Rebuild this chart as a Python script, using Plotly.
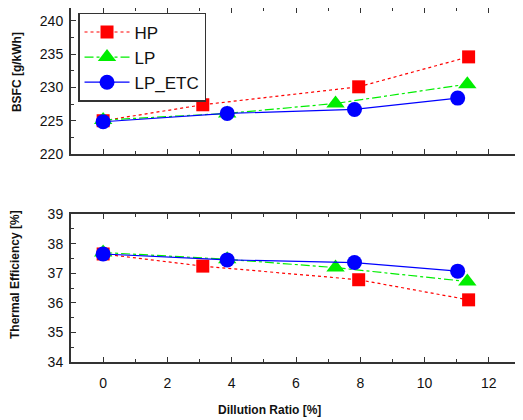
import plotly.graph_objects as go
from plotly.subplots import make_subplots

series_names = ["HP", "LP", "LP_ETC"]
x_HP = [0, 3.1, 7.95, 11.37]
x_LP = [0, 3.86, 7.23, 11.33]
x_ETC = [0, 3.86, 7.82, 11.03]
bsfc_HP = [225.0, 227.4, 230.1, 234.6]
bsfc_LP = [225.1, 226.1, 227.6, 230.5]
bsfc_ETC = [224.85, 226.1, 226.7, 228.4]
te_HP = [37.65, 37.24, 36.78, 36.1]
te_LP = [37.7, 37.47, 37.19, 36.72]
te_ETC = [37.65, 37.45, 37.36, 37.07]

x_title = "Dillution Ratio [%]"
y1_title = "BSFC [g/kWh]"
y2_title = "Thermal Efficiency [%]"

FONT = "Liberation Sans, Arial, sans-serif"
AX = "#333333"

fig = make_subplots(rows=2, cols=1, shared_xaxes=False, vertical_spacing=0.0)

styles = [
    dict(color="#FF0000", dash="dot", symbol="square", size=13),
    dict(color="#00EE00", dash="dashdot", symbol="triangle-up", size=16),
    dict(color="#0000FF", dash="solid", symbol="circle", size=15),
]
xs = [x_HP, x_LP, x_ETC]
ys1 = [bsfc_HP, bsfc_LP, bsfc_ETC]
ys2 = [te_HP, te_LP, te_ETC]

for name, st, x, y1, y2 in zip(series_names, styles, xs, ys1, ys2):
    fig.add_trace(go.Scatter(
        x=x, y=y1, name=name, mode="lines+markers",
        line=dict(color=st["color"], dash=st["dash"], width=1.2),
        marker=dict(color=st["color"], symbol=st["symbol"], size=st["size"]),
        legendgroup=name, showlegend=True), row=1, col=1)
    fig.add_trace(go.Scatter(
        x=x, y=y2, name=name, mode="lines+markers",
        line=dict(color=st["color"], dash=st["dash"], width=1.2),
        marker=dict(color=st["color"], symbol=st["symbol"], size=st["size"]),
        legendgroup=name, showlegend=False), row=2, col=1)

axcommon = dict(showline=True, linecolor=AX, linewidth=2, mirror="allticks",
                ticks="inside", ticklen=5, tickwidth=1.2, tickcolor=AX,
                showgrid=False, zeroline=False, automargin=False,
                tickfont=dict(family=FONT, size=14, color="#111"))

fig.update_xaxes(**axcommon, range=[-1, 13], dtick=2, tick0=0, ticklabelstandoff=7,
                 minor=dict(ticks="inside", ticklen=3, dtick=1, tick0=0, tickcolor=AX, tickwidth=1.2))
fig.update_xaxes(showticklabels=False, row=1, col=1)
fig.update_yaxes(**axcommon, ticklabelstandoff=3)
fig.update_yaxes(range=[220, 241.95], dtick=5, tick0=220,
                 minor=dict(ticks="inside", ticklen=3, dtick=2.5, tick0=220, tickcolor=AX, tickwidth=1.2),
                 row=1, col=1)
fig.update_yaxes(range=[34, 39], dtick=1, tick0=34,
                 minor=dict(ticks="inside", ticklen=3, dtick=0.5, tick0=34, tickcolor=AX, tickwidth=1.2),
                 row=2, col=1)

fig.update_layout(
    yaxis=dict(domain=[0.5876, 1.0]),
    yaxis2=dict(domain=[0.0, 0.418]),
    width=523, height=420,
    margin=dict(l=63, r=10, t=0, b=66, autoexpand=False),
    paper_bgcolor="white", plot_bgcolor="white",
    font=dict(family=FONT, color="#111"),
    legend=dict(x=0.0156, y=0.986, xanchor="left", yanchor="top",
                bgcolor="white", bordercolor=AX, borderwidth=1.5,
                font=dict(family=FONT, size=17, color="#111"),
                itemwidth=45, tracegroupgap=0),
    annotations=[
        dict(text="<b>" + x_title + "</b>", xref="paper", yref="paper",
             x=0.442, y=-0.1356, xanchor="center", yanchor="middle", showarrow=False,
             font=dict(family=FONT, size=12, color="#111")),
        dict(text="<b>" + y1_title + "</b>", xref="paper", yref="paper",
             x=-0.12, y=0.819, xanchor="center", yanchor="middle", showarrow=False, textangle=-90,
             font=dict(family=FONT, size=12, color="#111")),
        dict(text="<b>" + y2_title + "</b>", xref="paper", yref="paper",
             x=-0.1244, y=0.2458, xanchor="center", yanchor="middle", showarrow=False, textangle=-90,
             font=dict(family=FONT, size=12, color="#111")),
    ],
)

fig.write_html("out.html")
